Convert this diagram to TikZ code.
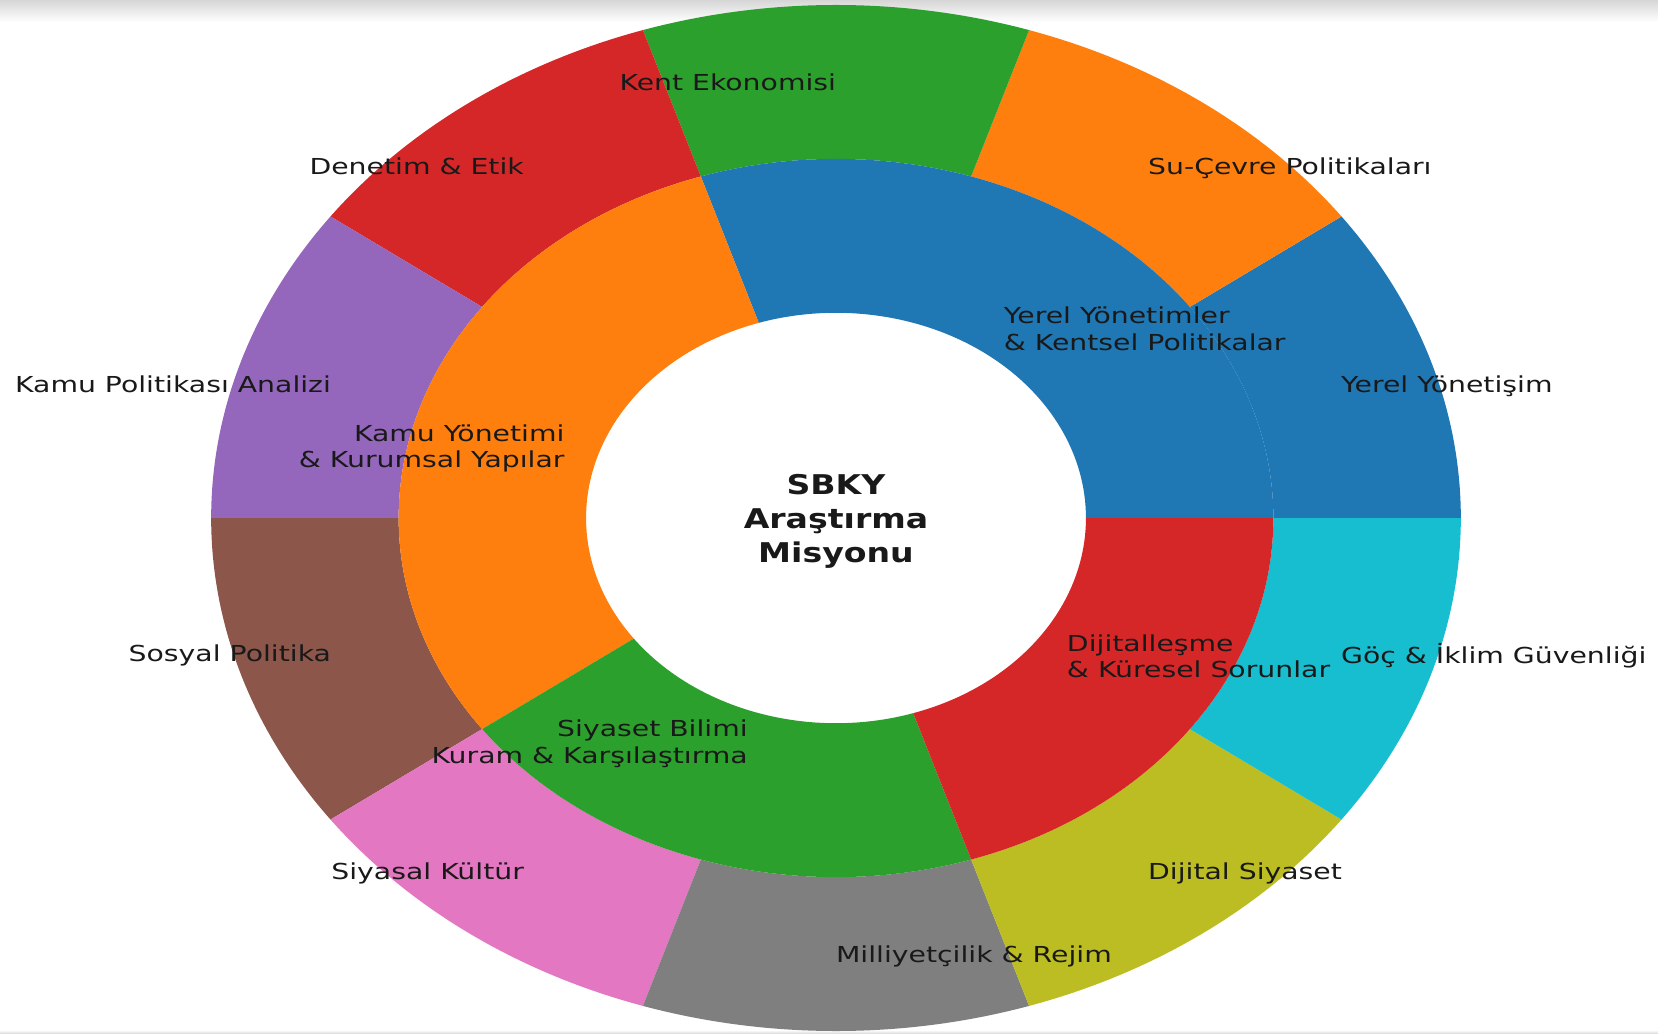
\documentclass[tikz,border=0pt]{standalone}
\usepackage{fontspec}
\setmainfont{DejaVu Sans}
\definecolor{tabblue}{HTML}{1F77B4}
\definecolor{taborange}{HTML}{FF7F0E}
\definecolor{tabgreen}{HTML}{2CA02C}
\definecolor{tabred}{HTML}{D62728}
\definecolor{tabpurple}{HTML}{9467BD}
\definecolor{tabbrown}{HTML}{8C564B}
\definecolor{tabpink}{HTML}{E377C2}
\definecolor{tabgray}{HTML}{7F7F7F}
\definecolor{tabolive}{HTML}{BCBD22}
\definecolor{tabcyan}{HTML}{17BECF}
\newcommand\mystrut{\vrule width 0pt height 0.76em depth 0.24em}
\tikzset{
  lab/.style={font=\fontsize{11pt}{13.3pt}\selectfont, inner sep=0pt, outer sep=0pt, transform shape, xscale=1.056, yshift=-1.6pt, text=black!90},
  midlab/.style={font=\fontsize{13.6pt}{17.1pt}\selectfont\bfseries, inner sep=0pt, transform shape, align=center, yshift=-1.6pt, text=black!90}
}
\begin{document}
\begin{tikzpicture}
\useasboundingbox (-418pt,-257.5pt) rectangle (411pt,259pt);
\shade[top color=black!16, bottom color=white] (-418pt,248pt) rectangle (411pt,259pt);
\shade[top color=white, bottom color=black!12] (-418pt,-257.5pt) rectangle (411pt,-256pt);
\begin{scope}[xscale=1.218]
  % outer ring
  \foreach \a/\c in {0/tabblue,36/taborange,72/tabgreen,108/tabred,144/tabpurple,180/tabbrown,216/tabpink,252/tabgray,288/tabolive,324/tabcyan}{
    \fill[\c] (\a:179.55pt) arc[start angle=\a, delta angle=36, radius=179.55pt]
      -- ({\a+36}:256.5pt) arc[start angle=\a+36, delta angle=-36, radius=256.5pt] -- cycle;
  }
  % inner ring
  \foreach \a/\d/\c in {0/108/tabblue,108/108/taborange,216/72/tabgreen,288/72/tabred}{
    \fill[\c] (\a:102.6pt) arc[start angle=\a, delta angle=\d, radius=102.6pt]
      -- ({\a+\d}:179.55pt) arc[start angle=\a+\d, delta angle=-\d, radius=179.55pt] -- cycle;
  }
  % outer labels
  \node[lab, anchor=west] (o1) at (18:218pt) {Yerel Yönetişim\mystrut};
  \node[lab, anchor=west] (o2) at (54:218pt) {Su-Çevre Politikaları\mystrut};
  \node[lab, anchor=east] (o3) at (90:218pt) {Kent Ekonomisi\mystrut};
  \node[lab, anchor=east] (o4) at (126:218pt) {Denetim \& Etik\mystrut};
  \node[lab, anchor=east] (o5) at (162:218pt) {Kamu Politikası Analizi\mystrut};
  \node[lab, anchor=east] (o6) at (198:218pt) {Sosyal Politika\mystrut};
  \node[lab, anchor=east] (o7) at (234:218pt) {Siyasal Kültür\mystrut};
  \node[lab, anchor=west] (o8) at (270:218pt) {Milliyetçilik \& Rejim\mystrut};
  \node[lab, anchor=west] (o9) at (306:218pt) {Dijital Siyaset\mystrut};
  \node[lab, anchor=west] (o10) at (342:218pt) {Göç \& İklim Güvenliği\mystrut};
  % inner labels
  \node[lab, anchor=west, align=left] (i1) at (54:117.2pt) {Yerel Yönetimler\mystrut\\\& Kentsel Politikalar\mystrut};
  \node[lab, anchor=east, align=right] (i2) at (162:117.2pt) {Kamu Yönetimi\mystrut\\\& Kurumsal Yapılar\mystrut};
  \node[lab, anchor=east, align=right] (i3) at (252:117.2pt) {Siyaset Bilimi\mystrut\\Kuram \& Karşılaştırma\mystrut};
  \node[lab, anchor=west, align=left] (i4) at (324:117.2pt) {Dijitalleşme\mystrut\\\& Küresel Sorunlar\mystrut};
  % centre
  \node[midlab] (c) at (0,0) {SBKY\mystrut\\Araştırma\mystrut\\Misyonu\mystrut};
\end{scope}
\end{tikzpicture}
\end{document}
